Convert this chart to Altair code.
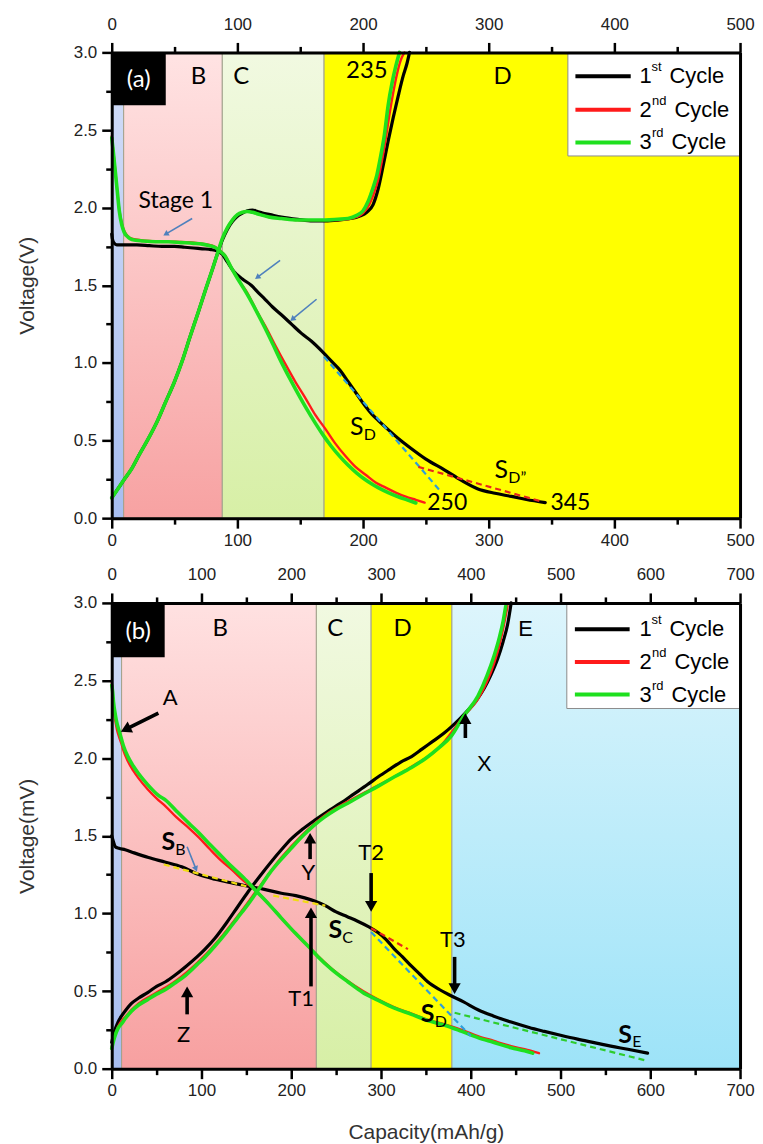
import math
import altair as alt
import pandas as pd

# ======================= DATA =======================
# ---------- panel (a): capacity (mAh/g) vs voltage (V) ----------
A1_DIS_X = [0, 0.5, 2, 4, 10, 20, 30, 40, 50, 58, 65, 72, 79, 84, 88, 92, 97, 104, 111, 117, 122, 128, 135, 143, 151, 159, 168, 175, 182, 188, 195, 201, 207, 212, 220, 230, 238, 250, 265, 278, 291, 305, 318, 330, 345]
A1_DIS_V = [1.83, 1.80, 1.77, 1.76, 1.76, 1.76, 1.755, 1.75, 1.75, 1.745, 1.74, 1.735, 1.73, 1.72, 1.70, 1.65, 1.59, 1.54, 1.50, 1.45, 1.41, 1.36, 1.31, 1.25, 1.19, 1.14, 1.07, 1.01, 0.95, 0.88, 0.80, 0.73, 0.67, 0.63, 0.57, 0.50, 0.45, 0.38, 0.31, 0.245, 0.19, 0.16, 0.14, 0.12, 0.10]
A1_CHG_X = [0, 5, 10, 16, 22, 29, 36, 43, 50, 56, 62, 69, 75, 80, 84, 88, 92, 96, 100, 104, 108, 112, 116, 120, 126, 135, 148, 160, 170, 180, 190, 197, 203, 208, 212, 216, 220, 224, 228, 232, 235, 237]
A1_CHG_V = [0.13, 0.19, 0.25, 0.32, 0.41, 0.51, 0.62, 0.75, 0.88, 1.01, 1.16, 1.33, 1.48, 1.60, 1.70, 1.79, 1.86, 1.91, 1.945, 1.965, 1.98, 1.985, 1.975, 1.965, 1.955, 1.94, 1.925, 1.915, 1.915, 1.92, 1.93, 1.945, 1.97, 2.02, 2.12, 2.27, 2.43, 2.58, 2.72, 2.85, 2.93, 3.0]
A2_DIS_X = [0, 2, 4, 6, 8, 10, 16, 30, 50, 70, 80, 86, 90, 96, 102, 108, 115, 122, 130, 138, 146, 154, 162, 170, 178, 186, 194, 202, 210, 218, 226, 234, 242, 249]
A2_DIS_V = [2.46, 2.31, 2.14, 1.99, 1.90, 1.85, 1.80, 1.785, 1.78, 1.77, 1.755, 1.725, 1.695, 1.60, 1.52, 1.45, 1.34, 1.24, 1.115, 0.995, 0.88, 0.775, 0.665, 0.575, 0.48, 0.40, 0.33, 0.28, 0.23, 0.197, 0.165, 0.138, 0.118, 0.10]
A2_CHG_X = [0, 5, 10, 16, 22, 29, 36, 43, 50, 56, 62, 69, 75, 80, 84, 88, 92, 96, 100, 104, 108, 112, 118, 125, 135, 148, 160, 170, 180, 188, 195, 200, 205, 209, 212, 215, 218, 221, 224, 227, 230, 233]
A2_CHG_V = [0.13, 0.19, 0.25, 0.32, 0.41, 0.51, 0.62, 0.75, 0.88, 1.01, 1.16, 1.33, 1.48, 1.60, 1.70, 1.80, 1.87, 1.92, 1.955, 1.97, 1.975, 1.97, 1.955, 1.94, 1.93, 1.92, 1.92, 1.92, 1.92, 1.925, 1.94, 1.965, 2.02, 2.10, 2.18, 2.30, 2.44, 2.60, 2.74, 2.86, 2.95, 3.0]
A3_DIS_X = [0, 1, 2, 3, 4.5, 6, 8, 10, 13, 16, 25, 35, 45, 55, 65, 72, 78, 82, 86, 90, 95, 100, 105, 109, 115, 122, 128, 135, 142, 148, 155, 162, 168, 175, 182, 188, 195, 201, 207, 212, 220, 228, 235, 242]
A3_DIS_V = [2.45, 2.38, 2.30, 2.22, 2.10, 1.98, 1.89, 1.84, 1.81, 1.795, 1.785, 1.78, 1.78, 1.775, 1.77, 1.765, 1.755, 1.745, 1.72, 1.69, 1.615, 1.545, 1.48, 1.425, 1.335, 1.225, 1.125, 1.005, 0.895, 0.805, 0.705, 0.612, 0.538, 0.46, 0.393, 0.342, 0.29, 0.252, 0.22, 0.197, 0.165, 0.138, 0.118, 0.098]
A3_CHG_X = [0, 5, 10, 16, 22, 29, 36, 43, 50, 56, 62, 69, 75, 80, 84, 88, 92, 96, 100, 104, 108, 112, 118, 125, 135, 148, 160, 170, 180, 188, 195, 200, 204, 208, 211, 214, 217, 220, 223, 226, 229]
A3_CHG_V = [0.13, 0.19, 0.25, 0.32, 0.41, 0.51, 0.62, 0.75, 0.88, 1.01, 1.16, 1.33, 1.48, 1.60, 1.70, 1.80, 1.87, 1.92, 1.955, 1.97, 1.975, 1.97, 1.955, 1.94, 1.93, 1.92, 1.92, 1.92, 1.925, 1.93, 1.95, 1.98, 2.04, 2.13, 2.21, 2.33, 2.47, 2.66, 2.80, 2.91, 3.0]

# ---------- panel (b) ----------
B1_DIS_X = [0, 1, 2, 4, 8, 15, 25, 41, 60, 78, 97, 115, 135, 152, 170, 189, 205, 215, 226, 238, 250, 262, 274, 286, 297, 306, 315, 324, 334, 343, 352, 365, 378, 392, 408, 425, 445, 465, 482, 500, 519, 540, 556, 575, 597]
B1_DIS_V = [1.50, 1.48, 1.46, 1.43, 1.42, 1.41, 1.39, 1.36, 1.33, 1.30, 1.25, 1.22, 1.195, 1.175, 1.155, 1.13, 1.115, 1.10, 1.08, 1.05, 1.01, 0.98, 0.95, 0.915, 0.875, 0.83, 0.77, 0.72, 0.66, 0.61, 0.56, 0.51, 0.47, 0.43, 0.38, 0.34, 0.30, 0.265, 0.24, 0.215, 0.19, 0.165, 0.145, 0.125, 0.10]
B1_CHG_X = [0, 3, 7, 11, 16, 22, 30, 40, 50, 60, 70, 82, 95, 104, 115, 128, 140, 152, 165, 178, 189, 200, 212, 226, 240, 255, 270, 285, 297, 310, 322, 334, 346, 358, 370, 378, 388, 397, 406, 415, 422, 430, 436, 441, 445]
B1_CHG_V = [0.17, 0.24, 0.30, 0.34, 0.38, 0.42, 0.455, 0.49, 0.53, 0.56, 0.60, 0.655, 0.72, 0.77, 0.84, 0.94, 1.04, 1.14, 1.24, 1.335, 1.41, 1.48, 1.54, 1.60, 1.655, 1.71, 1.77, 1.83, 1.88, 1.93, 1.975, 2.01, 2.06, 2.11, 2.16, 2.20, 2.255, 2.31, 2.37, 2.45, 2.53, 2.64, 2.75, 2.86, 3.0]
B2_DIS_X = [0, 1, 2, 4, 6, 8, 11, 13, 18, 24, 30, 40, 52, 60, 72, 86, 97, 110, 122, 134, 147, 160, 175, 189, 205, 222, 245, 263, 280, 297, 315, 334, 352, 371, 390, 408, 425, 445, 460, 476]
B2_DIS_V = [2.50, 2.40, 2.32, 2.24, 2.18, 2.14, 2.09, 2.05, 1.98, 1.92, 1.87, 1.80, 1.73, 1.69, 1.62, 1.55, 1.49, 1.41, 1.34, 1.28, 1.21, 1.15, 1.06, 0.97, 0.87, 0.77, 0.645, 0.565, 0.50, 0.445, 0.395, 0.355, 0.315, 0.285, 0.25, 0.21, 0.18, 0.145, 0.125, 0.10]
B2_CHG_X = [0, 7, 16, 30, 50, 70, 95, 115, 140, 163, 189, 213, 237, 263, 297, 334, 365, 392, 408, 418, 426, 432, 437, 441]
B2_CHG_V = [0.14, 0.27, 0.34, 0.42, 0.49, 0.56, 0.68, 0.80, 0.98, 1.16, 1.36, 1.51, 1.63, 1.72, 1.825, 1.945, 2.07, 2.27, 2.38, 2.49, 2.61, 2.73, 2.86, 2.98]
B3_DIS_X = [0, 1, 2, 4, 6, 8, 11, 13, 18, 24, 30, 40, 52, 60, 72, 86, 97, 110, 122, 134, 147, 160, 175, 189, 205, 222, 230, 245, 263, 280, 297, 315, 334, 352, 371, 390, 408, 425, 445, 460, 469]
B3_DIS_V = [2.47, 2.43, 2.36, 2.28, 2.22, 2.18, 2.12, 2.08, 2.01, 1.95, 1.90, 1.83, 1.76, 1.73, 1.66, 1.58, 1.52, 1.44, 1.37, 1.30, 1.23, 1.15, 1.06, 0.97, 0.87, 0.77, 0.72, 0.64, 0.56, 0.49, 0.44, 0.39, 0.35, 0.31, 0.28, 0.24, 0.20, 0.17, 0.135, 0.115, 0.10]
B3_CHG_X = [0, 3, 7, 11, 16, 22, 30, 40, 50, 60, 70, 82, 95, 104, 115, 128, 140, 152, 163, 176, 189, 200, 213, 226, 237, 250, 263, 278, 297, 315, 334, 350, 365, 378, 392, 408, 418, 426, 432, 436, 439]
B3_CHG_V = [0.13, 0.20, 0.26, 0.29, 0.33, 0.37, 0.41, 0.445, 0.48, 0.51, 0.55, 0.60, 0.67, 0.72, 0.79, 0.88, 0.97, 1.06, 1.15, 1.26, 1.35, 1.42, 1.50, 1.57, 1.62, 1.67, 1.71, 1.76, 1.82, 1.88, 1.94, 2.00, 2.07, 2.14, 2.27, 2.40, 2.53, 2.66, 2.78, 2.88, 2.98]

# ---------- shaded regions (capacity bounds) ----------
A_REG_X0 = [0, 9.5, 88, 169]
A_REG_X1 = [9.5, 88, 169, 500]
B_REG_X0 = [0, 11, 228, 289, 379]
B_REG_X1 = [11, 228, 289, 379, 700]

# ---------- annotation texts ----------
A_REGION_TEXT = ["B", "C", "235", "D"]
A_REGION_X = [69, 103, 203, 311]
A_REGION_Y = [2.84, 2.84, 2.88, 2.84]
A_NOTE_TEXT = ["Stage 1", "250", "345"]
A_NOTE_X = [51, 267, 365]
A_NOTE_Y = [2.04, 0.10, 0.10]
A_SUB_MAIN = ["S", "S"]
A_SUB_TEXT = ["D", "D\u201d"]
A_SUB_X = [195, 310]
A_SUB_Y = [0.59, 0.31]

B_REGION_TEXT = ["B", "C", "D"]
B_REGION_X = [121, 249, 324]
B_REGION_Y = [2.83, 2.83, 2.83]
B_E_TEXT = ["E", "X"]
B_E_X = [461, 415]
B_E_Y = [2.83, 1.96]
B_NOTE_TEXT = ["A", "Y", "T1", "T2", "T3", "Z"]
B_NOTE_X = [65, 219, 211, 289, 380, 80]
B_NOTE_Y = [2.39, 1.26, 0.45, 1.39, 0.83, 0.22]
B_SUB_MAIN = ["S", "S", "S", "S"]
B_SUB_TEXT = ["B", "C", "D", "E"]
B_SUB_X = [63, 249, 352, 572]
B_SUB_Y = [1.46, 0.89, 0.35, 0.22]

# ---------- arrows (from -> to) ----------
A_BLUE_ARROWS = [(64, 1.93, 41, 1.82), (134, 1.66, 114, 1.54), (163, 1.41, 142, 1.27)]
B_BLUE_ARROWS = [(84, 1.43, 95, 1.27)]
B_BLACK_ARROWS = [(52, 2.29, 10, 2.17), (221, 1.35, 221, 1.52), (222, 0.53, 222, 1.04),
                  (289, 1.26, 289, 1.01), (382, 0.72, 382, 0.48), (394, 2.13, 394, 2.29),
                  (84, 0.35, 84, 0.53)]

# ---------- dashed tangent lines ----------
A_TANGENTS = [("blue", 169, 1.04, 262, 0.17), ("red", 244, 0.33, 341, 0.11)]
B_TANGENTS = [("yellow", 58, 1.315, 150, 1.175), ("yellow", 180, 1.115, 238, 1.05),
              ("red", 289, 0.905, 330, 0.77), ("blue", 289, 0.88, 400, 0.21),
              ("green", 382, 0.36, 597, 0.05)]

# ---------- legend ----------
LEGEND_NAMES = ["1", "2", "3"]
LEGEND_SUPS = ["st", "nd", "rd"]
A_LEG = {"box": (363, 500, 2.333, 3.0), "line": (369, 413), "text_x": 420, "ys": [2.846, 2.63, 2.42]}
B_LEG = {"box": (507, 700, 2.32, 3.0), "line": (516, 577), "text_x": 588, "ys": [2.83, 2.62, 2.41]}

A_BOX = (0, 43, 2.66, 3.0, "(a)", 21.5, 2.82)
B_BOX = (0, 59, 2.65, 3.0, "(b)", 29.5, 2.81)

# ======================= STYLE =======================
W = 630
H = 467
AXIS_FONT = "Liberation Sans"
NOTE_FONT = "Lato"
CYCLE_COLORS = ["#000000", "#ff1a1a", "#1ee01e"]
CYCLE_WIDTHS = [3.2, 2.4, 3.6]
TAN_COLORS = {"blue": "#2e9fd9", "red": "#e8261c", "yellow": "#f0dc10", "green": "#2ecc2e"}
X_MAJOR = "datum.value % 100 === 0"
Y_MAJOR = "round(datum.value * 100) % 50 === 0"


def gradient(c0, c1):
    return alt.Gradient(gradient="linear",
                        stops=[alt.GradientStop(color=c0, offset=0), alt.GradientStop(color=c1, offset=1)],
                        x1=0, x2=0, y1=0, y2=1)


def x_axis(xmax, orient, title=None):
    kw = dict(orient=orient, values=list(range(0, xmax + 1, 50)),
              labelExpr=f"{X_MAJOR} ? datum.label : ''",
              tickSize={"condition": {"test": X_MAJOR, "value": 10}, "value": 6},
              labelPadding=4 if orient == "bottom" else 9, format="d",
              labelOverlap=False, labelFlush=False, grid=False, zindex=1)
    if title:
        kw.update(title=title, titlePadding=23)
    else:
        kw.update(title=None)
    return alt.Axis(**kw)


def y_axis(orient, title=None):
    if orient == "right":
        return alt.Axis(orient="right", ticks=False, labels=False, title=None, grid=False, zindex=1)
    return alt.Axis(orient="left", values=[i * 0.25 for i in range(13)], format=".1f",
                    labelExpr=f"{Y_MAJOR} ? datum.label : ''",
                    tickSize={"condition": {"test": Y_MAJOR, "value": 10}, "value": 6},
                    labelPadding=5, labelOverlap=False, labelFlush=False, grid=False,
                    title=title, titlePadding=36, zindex=1)


def build_panel(p):
    xmax = p["xmax"]
    xs = alt.Scale(domain=[0, xmax], nice=False, zero=False)
    ys = alt.Scale(domain=[0, 3], nice=False, zero=False)
    kx, ky = W / xmax, H / 3.0
    layers = []

    def ex(f="x", axis=None):
        return alt.X(f"{f}:Q", scale=xs, axis=axis)

    def ey(f="y", axis=None):
        return alt.Y(f"{f}:Q", scale=ys, axis=axis)

    # shaded regions
    for i, (x0, x1) in enumerate(zip(p["reg_x0"], p["reg_x1"])):
        df = pd.DataFrame({"x": [x0], "x2": [x1], "y": [0.0], "y2": [3.0]})
        if i == 0:
            xa, ya = x_axis(xmax, "bottom", p["xtitle"]), y_axis("left", p["ytitle"])
        elif i == 1:
            xa, ya = x_axis(xmax, "top"), y_axis("right")
        else:
            xa = ya = None
        c0, c1 = p["reg_colors"][i]
        layers.append(alt.Chart(df).mark_rect(fill=gradient(c0, c1), stroke="#a2a28c", strokeWidth=1)
                      .encode(x=ex("x", xa), x2=alt.X2("x2"), y=ey("y", ya), y2=alt.Y2("y2")))

    # label box
    bx0, bx1, by0, by1, btxt, btx, bty = p["box"]
    layers.append(alt.Chart(pd.DataFrame({"x": [bx0], "x2": [bx1], "y": [by0], "y2": [by1]}))
                  .mark_rect(fill="black").encode(x=ex(), x2=alt.X2("x2"), y=ey(), y2=alt.Y2("y2")))
    layers.append(alt.Chart(pd.DataFrame({"x": [btx], "y": [bty], "t": [btxt]}))
                  .mark_text(font=NOTE_FONT, fontSize=24, color="white", baseline="middle")
                  .encode(x=ex(), y=ey(), text="t:N"))

    # curves
    for ci, segs in enumerate(p["curves"]):
        rows = []
        for si, (sx, sv) in enumerate(segs):
            for k, (xv, vv) in enumerate(zip(sx, sv)):
                rows.append({"x": xv, "y": vv, "seg": si, "i": k})
        layers.append(alt.Chart(pd.DataFrame(rows))
                      .mark_line(color=CYCLE_COLORS[ci], strokeWidth=CYCLE_WIDTHS[ci],
                                 interpolate="monotone", strokeCap="round", strokeJoin="round")
                      .encode(x=ex(), y=ey(), detail="seg:N", order="i:Q"))

    # dashed tangents
    for name, x1, y1, x2, y2 in p["tangents"]:
        df = pd.DataFrame({"x": [x1], "y": [y1], "x2": [x2], "y2": [y2]})
        layers.append(alt.Chart(df).mark_rule(color=TAN_COLORS[name], strokeWidth=2.2, strokeDash=[6, 4])
                      .encode(x=ex(), y=ey(), x2=alt.X2("x2"), y2=alt.Y2("y2")))

    # arrows
    def arrow(x1, y1, x2, y2, color, width, head):
        dxp, dyp = (x2 - x1) * kx, (y2 - y1) * ky
        L = math.hypot(dxp, dyp)
        ang = math.degrees(math.atan2(dxp, dyp)) % 360
        back = math.sqrt(head) * 0.45
        cx = x2 - dxp / L * back / kx
        cy = y2 - dyp / L * back / ky
        df = pd.DataFrame({"x": [x1], "y": [y1], "x2": [cx], "y2": [cy]})
        layers.append(alt.Chart(df).mark_rule(color=color, strokeWidth=width)
                      .encode(x=ex(), y=ey(), x2=alt.X2("x2"), y2=alt.Y2("y2")))
        layers.append(alt.Chart(pd.DataFrame({"x": [cx], "y": [cy]}))
                      .mark_point(shape="triangle-up", filled=True, size=head, angle=ang,
                                  color=color, opacity=1, strokeWidth=0)
                      .encode(x=ex(), y=ey()))

    for a in p["blue_arrows"]:
        arrow(*a, "#4f81bd", 1.6, 40)
    for a in p["black_arrows"]:
        arrow(*a, "black", 3.6, 150)

    # texts
    def text(tx, xv, yv, font, size, weight="normal", align="center", dx=0, dy=0, color="black"):
        layers.append(alt.Chart(pd.DataFrame({"x": [xv], "y": [yv], "t": [tx]}))
                      .mark_text(font=font, fontSize=size, fontWeight=weight, align=align,
                                 baseline="middle", dx=dx, dy=dy, color=color)
                      .encode(x=ex(), y=ey(), text="t:N"))

    for t, xv, yv in zip(*p["region_text"]):
        text(t, xv, yv, NOTE_FONT, 24)
    for t, xv, yv in zip(*p["note_text"]):
        text(t, xv, yv, NOTE_FONT, p["note_size"])
    for t, xv, yv in zip(*p["arial_text"]):
        text(t, xv, yv, AXIS_FONT, 22)
    for m, s, xv, yv in zip(*p["sub_text"]):
        text(m, xv, yv, NOTE_FONT, 25, weight=p["sub_weight"])
        text(s, xv, yv, NOTE_FONT, 16, align="left", dx=7, dy=8)

    # legend
    lg = p["legend"]
    lx0, lx1, ly0, ly1 = lg["box"]
    layers.append(alt.Chart(pd.DataFrame({"x": [lx0], "x2": [lx1], "y": [ly0], "y2": [ly1]}))
                  .mark_rect(fill="white", stroke="#8c8c8c", strokeWidth=1)
                  .encode(x=ex(), x2=alt.X2("x2"), y=ey(), y2=alt.Y2("y2")))
    cyc_dx = [30, 35, 32]
    sup_dx = [12, 12.5, 12.5]
    for i, yv in enumerate(lg["ys"]):
        layers.append(alt.Chart(pd.DataFrame({"x": [lg["line"][0]], "x2": [lg["line"][1]], "y": [yv]}))
                      .mark_rule(color=CYCLE_COLORS[i], strokeWidth=4)
                      .encode(x=ex(), x2=alt.X2("x2"), y=ey()))
        text(LEGEND_NAMES[i], lg["text_x"], yv, AXIS_FONT, 22, align="left")
        text(LEGEND_SUPS[i], lg["text_x"], yv, AXIS_FONT, 13, align="left", dx=sup_dx[i], dy=-9)
        text("Cycle", lg["text_x"], yv, AXIS_FONT, 22, align="left", dx=cyc_dx[i])

    return alt.layer(*layers).properties(width=W, height=H).resolve_axis(x="independent", y="independent")


PANEL_A = {
    "xmax": 500, "xtitle": None, "ytitle": "Voltage(V)",
    "reg_x0": A_REG_X0, "reg_x1": A_REG_X1,
    "reg_colors": [("#d3def8", "#a7bdf0"), ("#ffe3e3", "#f7a2a2"), ("#f1f9e1", "#d7efa6"), ("#ffff00", "#ffff00")],
    "box": A_BOX,
    "curves": [[(A1_DIS_X, A1_DIS_V), (A1_CHG_X, A1_CHG_V)],
               [(A2_DIS_X, A2_DIS_V), (A2_CHG_X, A2_CHG_V)],
               [(A3_DIS_X, A3_DIS_V), (A3_CHG_X, A3_CHG_V)]],
    "tangents": A_TANGENTS,
    "blue_arrows": A_BLUE_ARROWS, "black_arrows": [],
    "region_text": (A_REGION_TEXT, A_REGION_X, A_REGION_Y),
    "note_text": (A_NOTE_TEXT, A_NOTE_X, A_NOTE_Y), "note_size": 23,
    "arial_text": ([], [], []),
    "sub_text": (A_SUB_MAIN, A_SUB_TEXT, A_SUB_X, A_SUB_Y), "sub_weight": "normal",
    "legend": A_LEG,
}

PANEL_B = {
    "xmax": 700, "xtitle": "Capacity(mAh/g)", "ytitle": "Voltage(mV)",
    "reg_x0": B_REG_X0, "reg_x1": B_REG_X1,
    "reg_colors": [("#d3def8", "#a7bdf0"), ("#ffe1e1", "#f7a0a0"), ("#f1f9e1", "#d7efa6"),
                   ("#ffff00", "#ffff00"), ("#ddf5fc", "#9de3f8")],
    "box": B_BOX,
    "curves": [[(B1_DIS_X, B1_DIS_V), (B1_CHG_X, B1_CHG_V)],
               [(B2_DIS_X, B2_DIS_V), (B2_CHG_X, B2_CHG_V)],
               [(B3_DIS_X, B3_DIS_V), (B3_CHG_X, B3_CHG_V)]],
    "tangents": B_TANGENTS,
    "blue_arrows": B_BLUE_ARROWS, "black_arrows": B_BLACK_ARROWS,
    "region_text": (B_REGION_TEXT, B_REGION_X, B_REGION_Y),
    "note_text": (B_NOTE_TEXT, B_NOTE_X, B_NOTE_Y), "note_size": 22,
    "arial_text": (B_E_TEXT, B_E_X, B_E_Y),
    "sub_text": (B_SUB_MAIN, B_SUB_TEXT, B_SUB_X, B_SUB_Y), "sub_weight": "bold",
    "legend": B_LEG,
}

chart = (
    alt.vconcat(build_panel(PANEL_A), build_panel(PANEL_B), spacing=18)
    .properties(padding={"left": 8, "top": 6, "right": 0, "bottom": 0}, background="white")
    .configure_view(stroke=None)
    .configure_axis(domainColor="black", domainWidth=3, tickColor="black", tickWidth=2.5,
                    labelFont=AXIS_FONT, labelFontSize=17, labelColor="#222222",
                    titleFont=AXIS_FONT, titleFontSize=21, titleFontWeight="normal", titleColor="#333333")
)

chart.save("out.html", embed_options={"renderer": "svg", "actions": False})
